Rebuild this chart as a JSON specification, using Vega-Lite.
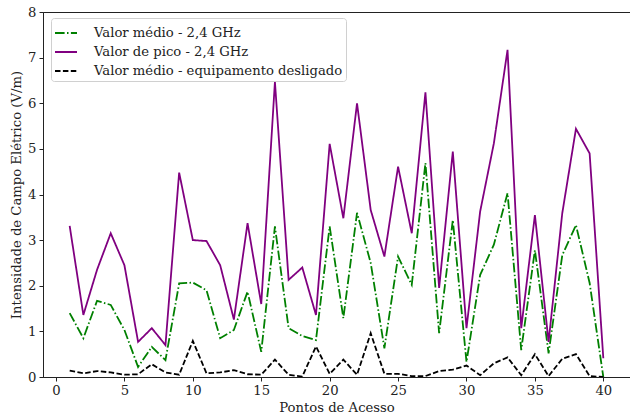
{
  "$schema": "https://vega.github.io/schema/vega-lite/v6.json",
  "width": 587,
  "height": 365,
  "autosize": {"type": "none"},
  "padding": {"left": 43, "top": 12, "right": 0, "bottom": 41},
  "background": "white",
  "config": {
    "view": {"stroke": "#222", "strokeWidth": 1},
    "font": "DejaVu Serif",
    "axis": {
      "grid": false,
      "domainColor": "#222",
      "tickColor": "#222",
      "tickSize": 4,
      "labelFont": "DejaVu Serif",
      "labelFontSize": 13.2,
      "labelColor": "#222",
      "titleFont": "DejaVu Serif",
      "titleFontSize": 13.2,
      "titleFontWeight": "normal",
      "titleColor": "#222",
      "labelPadding": 3
    },
    "legend": {
      "labelFont": "DejaVu Serif",
      "labelFontSize": 13.2,
      "labelColor": "#222",
      "labelLimit": 0
    }
  },
  "data": {
    "values": [
      {"p":1,"s":"Valor médio - 2,4 GHz","v":1.4},
      {"p":2,"s":"Valor médio - 2,4 GHz","v":0.85},
      {"p":3,"s":"Valor médio - 2,4 GHz","v":1.67},
      {"p":4,"s":"Valor médio - 2,4 GHz","v":1.58},
      {"p":5,"s":"Valor médio - 2,4 GHz","v":1.03},
      {"p":6,"s":"Valor médio - 2,4 GHz","v":0.22},
      {"p":7,"s":"Valor médio - 2,4 GHz","v":0.66},
      {"p":8,"s":"Valor médio - 2,4 GHz","v":0.37},
      {"p":9,"s":"Valor médio - 2,4 GHz","v":2.05},
      {"p":10,"s":"Valor médio - 2,4 GHz","v":2.07},
      {"p":11,"s":"Valor médio - 2,4 GHz","v":1.9},
      {"p":12,"s":"Valor médio - 2,4 GHz","v":0.85},
      {"p":13,"s":"Valor médio - 2,4 GHz","v":1.03},
      {"p":14,"s":"Valor médio - 2,4 GHz","v":1.87},
      {"p":15,"s":"Valor médio - 2,4 GHz","v":0.55},
      {"p":16,"s":"Valor médio - 2,4 GHz","v":3.3},
      {"p":17,"s":"Valor médio - 2,4 GHz","v":1.07},
      {"p":18,"s":"Valor médio - 2,4 GHz","v":0.9},
      {"p":19,"s":"Valor médio - 2,4 GHz","v":0.81},
      {"p":20,"s":"Valor médio - 2,4 GHz","v":3.3},
      {"p":21,"s":"Valor médio - 2,4 GHz","v":1.29},
      {"p":22,"s":"Valor médio - 2,4 GHz","v":3.6},
      {"p":23,"s":"Valor médio - 2,4 GHz","v":2.5},
      {"p":24,"s":"Valor médio - 2,4 GHz","v":0.63},
      {"p":25,"s":"Valor médio - 2,4 GHz","v":2.64},
      {"p":26,"s":"Valor médio - 2,4 GHz","v":2.02},
      {"p":27,"s":"Valor médio - 2,4 GHz","v":4.69},
      {"p":28,"s":"Valor médio - 2,4 GHz","v":0.96},
      {"p":29,"s":"Valor médio - 2,4 GHz","v":3.44},
      {"p":30,"s":"Valor médio - 2,4 GHz","v":0.33},
      {"p":31,"s":"Valor médio - 2,4 GHz","v":2.24},
      {"p":32,"s":"Valor médio - 2,4 GHz","v":2.9},
      {"p":33,"s":"Valor médio - 2,4 GHz","v":4.03},
      {"p":34,"s":"Valor médio - 2,4 GHz","v":0.59},
      {"p":35,"s":"Valor médio - 2,4 GHz","v":2.78},
      {"p":36,"s":"Valor médio - 2,4 GHz","v":0.52},
      {"p":37,"s":"Valor médio - 2,4 GHz","v":2.67},
      {"p":38,"s":"Valor médio - 2,4 GHz","v":3.33},
      {"p":39,"s":"Valor médio - 2,4 GHz","v":2.06},
      {"p":40,"s":"Valor médio - 2,4 GHz","v":0.0},
      {"p":1,"s":"Valor de pico - 2,4 GHz","v":3.31},
      {"p":2,"s":"Valor de pico - 2,4 GHz","v":1.36},
      {"p":3,"s":"Valor de pico - 2,4 GHz","v":2.35},
      {"p":4,"s":"Valor de pico - 2,4 GHz","v":3.15},
      {"p":5,"s":"Valor de pico - 2,4 GHz","v":2.45},
      {"p":6,"s":"Valor de pico - 2,4 GHz","v":0.77},
      {"p":7,"s":"Valor de pico - 2,4 GHz","v":1.07},
      {"p":8,"s":"Valor de pico - 2,4 GHz","v":0.7},
      {"p":9,"s":"Valor de pico - 2,4 GHz","v":4.48},
      {"p":10,"s":"Valor de pico - 2,4 GHz","v":3.0},
      {"p":11,"s":"Valor de pico - 2,4 GHz","v":2.98},
      {"p":12,"s":"Valor de pico - 2,4 GHz","v":2.45},
      {"p":13,"s":"Valor de pico - 2,4 GHz","v":1.26},
      {"p":14,"s":"Valor de pico - 2,4 GHz","v":3.37},
      {"p":15,"s":"Valor de pico - 2,4 GHz","v":1.6},
      {"p":16,"s":"Valor de pico - 2,4 GHz","v":6.47},
      {"p":17,"s":"Valor de pico - 2,4 GHz","v":2.13},
      {"p":18,"s":"Valor de pico - 2,4 GHz","v":2.4},
      {"p":19,"s":"Valor de pico - 2,4 GHz","v":1.36},
      {"p":20,"s":"Valor de pico - 2,4 GHz","v":5.11},
      {"p":21,"s":"Valor de pico - 2,4 GHz","v":3.48},
      {"p":22,"s":"Valor de pico - 2,4 GHz","v":6.0},
      {"p":23,"s":"Valor de pico - 2,4 GHz","v":3.66},
      {"p":24,"s":"Valor de pico - 2,4 GHz","v":2.64},
      {"p":25,"s":"Valor de pico - 2,4 GHz","v":4.61},
      {"p":26,"s":"Valor de pico - 2,4 GHz","v":3.15},
      {"p":27,"s":"Valor de pico - 2,4 GHz","v":6.24},
      {"p":28,"s":"Valor de pico - 2,4 GHz","v":1.95},
      {"p":29,"s":"Valor de pico - 2,4 GHz","v":4.94},
      {"p":30,"s":"Valor de pico - 2,4 GHz","v":1.07},
      {"p":31,"s":"Valor de pico - 2,4 GHz","v":3.63},
      {"p":32,"s":"Valor de pico - 2,4 GHz","v":5.12},
      {"p":33,"s":"Valor de pico - 2,4 GHz","v":7.17},
      {"p":34,"s":"Valor de pico - 2,4 GHz","v":1.07},
      {"p":35,"s":"Valor de pico - 2,4 GHz","v":3.55},
      {"p":36,"s":"Valor de pico - 2,4 GHz","v":0.77},
      {"p":37,"s":"Valor de pico - 2,4 GHz","v":3.59},
      {"p":38,"s":"Valor de pico - 2,4 GHz","v":5.44},
      {"p":39,"s":"Valor de pico - 2,4 GHz","v":4.9},
      {"p":40,"s":"Valor de pico - 2,4 GHz","v":0.41},
      {"p":1,"s":"Valor médio - equipamento desligado","v":0.14},
      {"p":2,"s":"Valor médio - equipamento desligado","v":0.08},
      {"p":3,"s":"Valor médio - equipamento desligado","v":0.13},
      {"p":4,"s":"Valor médio - equipamento desligado","v":0.1},
      {"p":5,"s":"Valor médio - equipamento desligado","v":0.05},
      {"p":6,"s":"Valor médio - equipamento desligado","v":0.06},
      {"p":7,"s":"Valor médio - equipamento desligado","v":0.28},
      {"p":8,"s":"Valor médio - equipamento desligado","v":0.1},
      {"p":9,"s":"Valor médio - equipamento desligado","v":0.05},
      {"p":10,"s":"Valor médio - equipamento desligado","v":0.79},
      {"p":11,"s":"Valor médio - equipamento desligado","v":0.08},
      {"p":12,"s":"Valor médio - equipamento desligado","v":0.1},
      {"p":13,"s":"Valor médio - equipamento desligado","v":0.15},
      {"p":14,"s":"Valor médio - equipamento desligado","v":0.06},
      {"p":15,"s":"Valor médio - equipamento desligado","v":0.05},
      {"p":16,"s":"Valor médio - equipamento desligado","v":0.38},
      {"p":17,"s":"Valor médio - equipamento desligado","v":0.05},
      {"p":18,"s":"Valor médio - equipamento desligado","v":0.01},
      {"p":19,"s":"Valor médio - equipamento desligado","v":0.67},
      {"p":20,"s":"Valor médio - equipamento desligado","v":0.07},
      {"p":21,"s":"Valor médio - equipamento desligado","v":0.38},
      {"p":22,"s":"Valor médio - equipamento desligado","v":0.05},
      {"p":23,"s":"Valor médio - equipamento desligado","v":0.96},
      {"p":24,"s":"Valor médio - equipamento desligado","v":0.07},
      {"p":25,"s":"Valor médio - equipamento desligado","v":0.07},
      {"p":26,"s":"Valor médio - equipamento desligado","v":0.02},
      {"p":27,"s":"Valor médio - equipamento desligado","v":0.02},
      {"p":28,"s":"Valor médio - equipamento desligado","v":0.13},
      {"p":29,"s":"Valor médio - equipamento desligado","v":0.16},
      {"p":30,"s":"Valor médio - equipamento desligado","v":0.25},
      {"p":31,"s":"Valor médio - equipamento desligado","v":0.04},
      {"p":32,"s":"Valor médio - equipamento desligado","v":0.3},
      {"p":33,"s":"Valor médio - equipamento desligado","v":0.43},
      {"p":34,"s":"Valor médio - equipamento desligado","v":0.04},
      {"p":35,"s":"Valor médio - equipamento desligado","v":0.5},
      {"p":36,"s":"Valor médio - equipamento desligado","v":0.02},
      {"p":37,"s":"Valor médio - equipamento desligado","v":0.4},
      {"p":38,"s":"Valor médio - equipamento desligado","v":0.5},
      {"p":39,"s":"Valor médio - equipamento desligado","v":0.02},
      {"p":40,"s":"Valor médio - equipamento desligado","v":0.0}
    ]
  },
  "mark": {"type": "line", "strokeWidth": 1.8, "clip": true},
  "encoding": {
    "x": {
      "field": "p", "type": "quantitative",
      "scale": {"domain": [-0.95, 41.95], "nice": false, "zero": false},
      "axis": {"values": [0,5,10,15,20,25,30,35,40], "title": "Pontos de Acesso", "titlePadding": 5}
    },
    "y": {
      "field": "v", "type": "quantitative",
      "scale": {"domain": [0, 8], "nice": false},
      "axis": {"values": [0,1,2,3,4,5,6,7,8], "title": "Intensidade de Campo Elétrico (V/m)", "titlePadding": 4}
    },
    "color": {
      "field": "s", "type": "nominal",
      "scale": {
        "domain": ["Valor médio - 2,4 GHz", "Valor de pico - 2,4 GHz", "Valor médio - equipamento desligado"],
        "range": ["#008000", "#800080", "#000000"]
      },
      "legend": {
        "title": null,
        "orient": "none",
        "legendX": 8,
        "legendY": 6,
        "symbolType": "stroke",
        "symbolSize": 484,
        "symbolStrokeWidth": 2,
        "strokeColor": "#d0d0d0",
        "fillColor": "white",
        "padding": 3,
        "cornerRadius": 3,
        "rowPadding": -2.5,
        "labelOffset": 16
      }
    },
    "strokeDash": {
      "field": "s", "type": "nominal",
      "scale": {
        "domain": ["Valor médio - 2,4 GHz", "Valor de pico - 2,4 GHz", "Valor médio - equipamento desligado"],
        "range": [[9.6, 2.4, 1.5, 2.4], [1, 0], [5.5, 2.4]]
      },
      "legend": null
    },
    "order": {"field": "p"}
  }
}
